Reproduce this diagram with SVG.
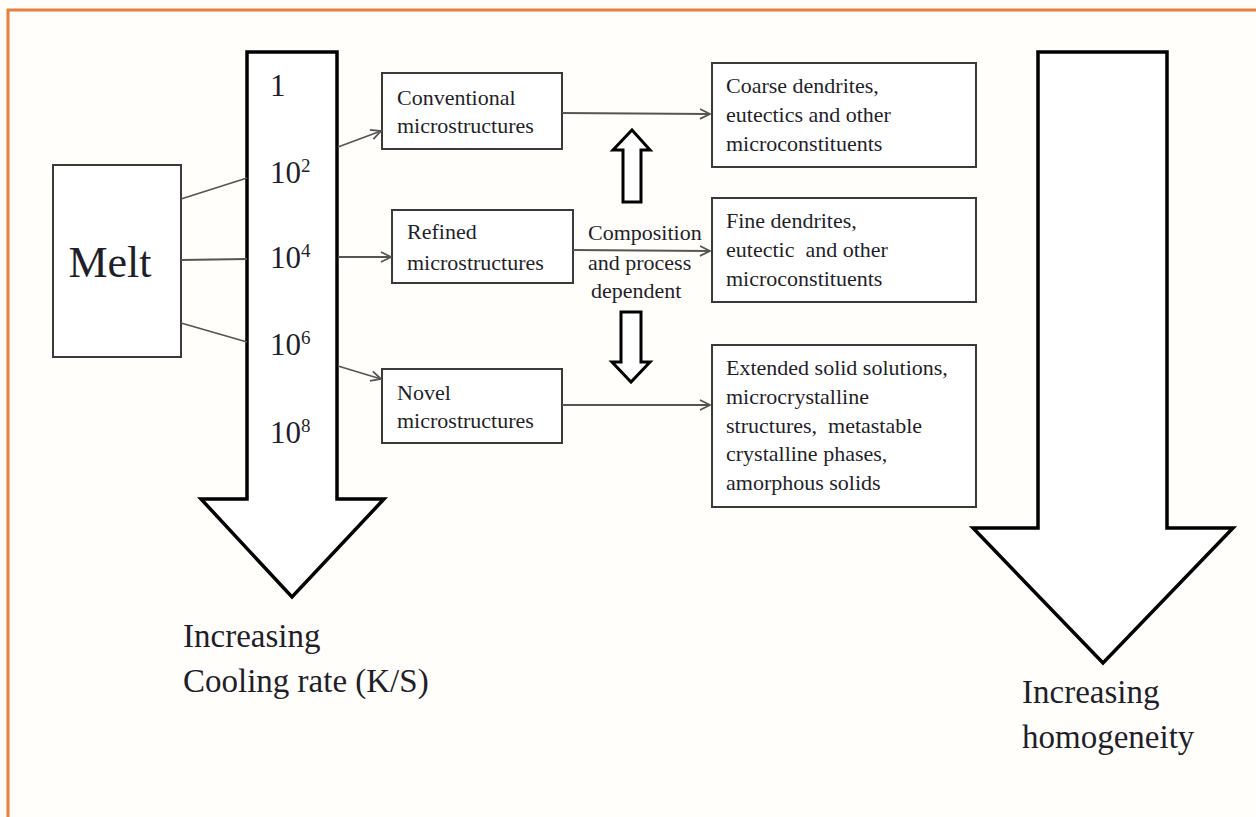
<svg xmlns="http://www.w3.org/2000/svg" width="1256" height="817" viewBox="0 0 1256 817">
<defs>
<style>
.t{font-family:"Liberation Serif","Times New Roman",serif;fill:#1f1f2a;font-size:22px;white-space:pre}
.n{font-family:"Liberation Serif","Times New Roman",serif;fill:#1f1f2a;font-size:31px}
.sup{font-size:19px}
.big{font-family:"Liberation Serif","Times New Roman",serif;fill:#1f1f2a;font-size:33px}
.box{fill:#fff;stroke:#3a3a3a;stroke-width:2}
.bigarrow{fill:#fff;stroke:#000;stroke-width:3.5;stroke-linejoin:miter}
.hollow{fill:#fff;stroke:#000;stroke-width:3}
.conn{fill:none;stroke:#555;stroke-width:1.8}
</style>
<marker id="ah" viewBox="0 0 12 12" refX="11" refY="6" markerWidth="12" markerHeight="12" markerUnits="userSpaceOnUse" orient="auto">
<path d="M1,1 L11,6 L1,11" fill="none" stroke="#555" stroke-width="1.8"/>
</marker>
</defs>
<rect x="0" y="0" width="1256" height="817" fill="#fffefb"/>
<g id="border">
<line x1="7" y1="10" x2="1256" y2="10" stroke="#e87d3e" stroke-width="3"/>
<line x1="8" y1="9" x2="8" y2="817" stroke="#e87d3e" stroke-width="3"/>
</g>
<g id="cooling-arrow">
<polygon class="bigarrow" points="247,52 337,52 337,499 384,499 292,597 201,499 247,499"/>
<text class="n" x="270" y="96">1</text>
<text class="n" x="270" y="183">10<tspan class="sup" dy="-11">2</tspan></text>
<text class="n" x="270" y="268">10<tspan class="sup" dy="-11">4</tspan></text>
<text class="n" x="270" y="355">10<tspan class="sup" dy="-11">6</tspan></text>
<text class="n" x="270" y="443">10<tspan class="sup" dy="-11">8</tspan></text>
<text class="big" x="183" y="647">Increasing</text>
<text class="big" x="183" y="692">Cooling rate (K/S)</text>
</g>
<g id="homogeneity-arrow">
<polygon class="bigarrow" points="1038,52 1167,52 1167,528 1233,528 1103,663 973,528 1038,528"/>
<text class="big" x="1022" y="703">Increasing</text>
<text class="big" x="1022" y="748">homogeneity</text>
</g>
<g id="melt">
<rect class="box" x="53" y="165" width="128" height="192"/>
<text class="t" x="110" y="277" text-anchor="middle" style="font-size:44px">Melt</text>
</g>
<g id="conventional">
<rect class="box" x="382" y="73" width="180" height="76"/>
<text class="t" x="397" y="105">Conventional</text>
<text class="t" x="397" y="133">microstructures</text>
</g>
<g id="refined">
<rect class="box" x="392" y="210" width="181" height="73"/>
<text class="t" x="407" y="239">Refined</text>
<text class="t" x="407" y="270">microstructures</text>
</g>
<g id="novel">
<rect class="box" x="382" y="369" width="180" height="74"/>
<text class="t" x="397" y="400">Novel</text>
<text class="t" x="397" y="428">microstructures</text>
</g>
<g id="coarse">
<rect class="box" x="712" y="63" width="264" height="104"/>
<text class="t" x="726" y="93">Coarse dendrites,</text>
<text class="t" x="726" y="122">eutectics and other</text>
<text class="t" x="726" y="151">microconstituents</text>
</g>
<g id="fine">
<rect class="box" x="712" y="198" width="264" height="104"/>
<text class="t" x="726" y="228">Fine dendrites,</text>
<text class="t" x="726" y="257" xml:space="preserve">eutectic  and other</text>
<text class="t" x="726" y="286">microconstituents</text>
</g>
<g id="extended">
<rect class="box" x="712" y="345" width="264" height="162"/>
<text class="t" x="726" y="375">Extended solid solutions,</text>
<text class="t" x="726" y="404">microcrystalline</text>
<text class="t" x="726" y="433" xml:space="preserve">structures,  metastable</text>
<text class="t" x="726" y="461">crystalline phases,</text>
<text class="t" x="726" y="490">amorphous solids</text>
</g>
<g id="composition">
<text class="t" x="588" y="240">Composition</text>
<text class="t" x="588" y="270">and process</text>
<text class="t" x="591" y="298">dependent</text>
<polygon class="hollow" points="632,130 650,150 641,150 641,202 623,202 623,150 613,150"/>
<polygon class="hollow" points="621,312 641,312 641,362 650,362 631,382 612,362 621,362"/>
</g>
<g id="connectors">
<line class="conn" x1="181" y1="199" x2="247" y2="178"/>
<line class="conn" x1="181" y1="260" x2="247" y2="259"/>
<line class="conn" x1="181" y1="323" x2="247" y2="342"/>
<line class="conn" x1="338" y1="147" x2="381" y2="131" marker-end="url(#ah)"/>
<line class="conn" x1="338" y1="257" x2="391" y2="257" marker-end="url(#ah)"/>
<line class="conn" x1="338" y1="366" x2="381" y2="379" marker-end="url(#ah)"/>
<line class="conn" x1="562" y1="113" x2="710" y2="114" marker-end="url(#ah)"/>
<line class="conn" x1="573" y1="250" x2="710" y2="251" marker-end="url(#ah)"/>
<line class="conn" x1="562" y1="405" x2="710" y2="405" marker-end="url(#ah)"/>
</g>
</svg>
